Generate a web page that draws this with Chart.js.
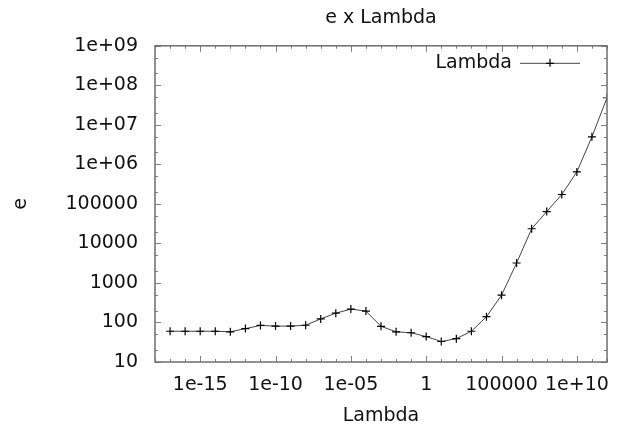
<!DOCTYPE html>
<html>
<head>
<meta charset="utf-8">
<script src="https://cdn.jsdelivr.net/npm/chart.js@4/dist/chart.umd.min.js"></script>
<style>
  html, body { margin: 0; padding: 0; background: #ffffff; }
  #wrap { width: 624px; height: 431px; position: relative; }
</style>
</head>
<body>
<div id="wrap"><canvas id="c" width="624" height="431"></canvas></div>
<script>
// ---- data ----
const lambdaValues = [1e-17, 1e-16, 1e-15, 1e-14, 1e-13, 1e-12, 1e-11, 1e-10, 1e-9, 1e-8,
                      1e-7, 1e-6, 1e-5, 1e-4, 1e-3, 1e-2, 1e-1, 1, 10, 100,
                      1e3, 1e4, 1e5, 1e6, 1e7, 1e8, 1e9, 1e10, 1e11, 1e12];
const eValues = [60, 60, 60, 60, 58, 70, 84, 81, 81, 85,
                 123, 172, 218, 194, 80, 58, 55, 44, 33, 39,
                 60, 140, 490, 3200, 23500, 64000, 173000, 646000, 4970000, 48500000];
const seriesLabel = "Lambda";
const chartTitle = "e x Lambda";
const xAxisTitle = "Lambda";
const yAxisTitle = "e";
const xTickValues = [1e-15, 1e-10, 1e-5, 1, 1e5, 1e10];
const xTickLabels = ["1e-15", "1e-10", "1e-05", "1", "100000", "1e+10"];
const xMinorValues = [1e-18,1e-17,1e-16,1e-14,1e-13,1e-12,1e-11,1e-9,1e-8,1e-7,1e-6,1e-4,1e-3,1e-2,1e-1,10,100,1e3,1e4,1e6,1e7,1e8,1e9,1e11,1e12];
const yTickValues = [10, 100, 1000, 10000, 100000, 1e6, 1e7, 1e8, 1e9];
const yTickLabels = ["10", "100", "1000", "10000", "100000", "1e+06", "1e+07", "1e+08", "1e+09"];
const yMinorMultipliers = [2, 5];
const xMin = 1e-18, xMax = 1e12, yMin = 10, yMax = 1e9;

const FONT = "'DejaVu Sans', sans-serif";
const points = lambdaValues.map((x, i) => ({ x: x, y: eValues[i] }));

// frame, inward ticks and key drawn through the chart's own scales
const framePlugin = {
  id: 'frame',
  afterDatasetsDraw(chart) {
    const ctx = chart.ctx;
    const a = chart.chartArea;
    const xs = chart.scales.x, ys = chart.scales.y;
    ctx.save();
    ctx.strokeStyle = '#808080';
    ctx.lineWidth = 1;
    ctx.beginPath();
    const tick = (px, len, vertical) => {
      if (vertical) {
        ctx.moveTo(px, a.bottom); ctx.lineTo(px, a.bottom - len);
        ctx.moveTo(px, a.top); ctx.lineTo(px, a.top + len);
      } else {
        ctx.moveTo(a.left, px); ctx.lineTo(a.left + len, px);
        ctx.moveTo(a.right, px); ctx.lineTo(a.right - len, px);
      }
    };
    xTickValues.forEach(v => tick(Math.round(xs.getPixelForValue(v)) + 0.5, 6, true));
    xMinorValues.forEach(v => tick(Math.round(xs.getPixelForValue(v)) + 0.5, 3, true));
    yTickValues.forEach(v => tick(Math.round(ys.getPixelForValue(v)) + 0.5, 6, false));
    yTickValues.forEach(v => yMinorMultipliers.forEach(m => {
      const val = v * m;
      if (val < yMax) tick(Math.round(ys.getPixelForValue(val)) + 0.5, 3, false);
    }));
    ctx.stroke();
    // border
    ctx.strokeStyle = '#6e6e6e';
    ctx.lineWidth = 1.5;
    ctx.strokeRect(a.left, a.top, a.right - a.left, a.bottom - a.top);
    // key
    const ds = chart.data.datasets[0];
    ctx.font = "19px " + FONT;
    ctx.fillStyle = '#111';
    ctx.textAlign = 'right';
    ctx.textBaseline = 'middle';
    const ky = a.top + 17;
    ctx.fillText(ds.label, a.right - 95, ky);
    ctx.strokeStyle = '#444';
    ctx.lineWidth = 1;
    ctx.beginPath();
    ctx.moveTo(a.right - 87, ky + 0.5); ctx.lineTo(a.right - 27, ky + 0.5);
    ctx.stroke();
    ctx.strokeStyle = '#000';
    ctx.lineWidth = 1.2;
    ctx.beginPath();
    const mx = a.right - 57;
    ctx.moveTo(mx - 4, ky + 0.5); ctx.lineTo(mx + 4, ky + 0.5);
    ctx.moveTo(mx, ky - 4); ctx.lineTo(mx, ky + 4);
    ctx.stroke();
    ctx.restore();
  }
};

new Chart(document.getElementById('c'), {
  type: 'line',
  data: {
    datasets: [{
      label: seriesLabel,
      data: points,
      borderColor: '#444444',
      borderWidth: 1,
      tension: 0,
      fill: false,
      pointStyle: 'cross',
      pointRadius: 4,
      pointBorderColor: '#000000',
      pointBorderWidth: 1.2,
      pointBackgroundColor: '#000000'
    }]
  },
  options: {
    responsive: false,
    animation: false,
    layout: { padding: { left: 0, right: 17, top: 0, bottom: 0 } },
    plugins: {
      legend: { display: false },
      tooltip: { enabled: false },
      title: {
        display: true,
        text: chartTitle,
        fullSize: false,
        color: '#111',
        font: { family: FONT, size: 19, weight: 'normal', lineHeight: 1.2 },
        padding: { top: 7, bottom: 16 }
      }
    },
    scales: {
      x: {
        type: 'logarithmic',
        min: xMin, max: xMax,
        afterBuildTicks: (s) => { s.ticks = xTickValues.map(v => ({ value: v })); },
        afterFit: (s) => { s.height = 69; },
        grid: { display: false, drawTicks: false },
        border: { display: false },
        ticks: {
          autoSkip: false, maxRotation: 0, padding: 12,
          color: '#111',
          font: { family: FONT, size: 19 },
          callback: (v, i) => xTickLabels[i]
        },
        title: {
          display: true, text: xAxisTitle, color: '#111',
          font: { family: FONT, size: 19 },
          padding: { top: 0, bottom: 4 }
        }
      },
      y: {
        type: 'logarithmic',
        min: yMin, max: yMax,
        afterBuildTicks: (s) => { s.ticks = yTickValues.map(v => ({ value: v })); },
        afterFit: (s) => { s.width = 155; },
        grid: { display: false, drawTicks: false },
        border: { display: false },
        ticks: {
          autoSkip: false, padding: 17,
          color: '#111',
          font: { family: FONT, size: 19 },
          callback: (v, i) => yTickLabels[i]
        },
        title: {
          display: true, text: yAxisTitle, color: '#111',
          font: { family: FONT, size: 19 },
          padding: { top: 10, bottom: 0 }
        }
      }
    }
  },
  plugins: [framePlugin]
});
</script>
</body>
</html>
